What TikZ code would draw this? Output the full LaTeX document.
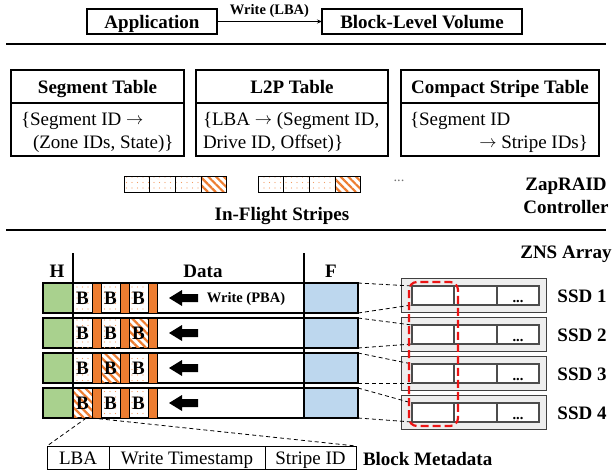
\documentclass[tikz,border=0pt]{standalone}
\usepackage{fontspec}
\setmainfont{Liberation Serif}
\usetikzlibrary{patterns.meta,calc,arrows.meta}
\definecolor{zorange}{RGB}{237,125,49}
\definecolor{zgreen}{RGB}{169,209,142}
\definecolor{zblue}{RGB}{189,215,238}
\definecolor{zgray}{RGB}{238,238,238}
\definecolor{zred}{RGB}{235,20,20}
\newcommand\zbig{\fontsize{19}{23}\selectfont}
\newcommand\zsmall{\fontsize{14.5}{17}\selectfont}
\newcommand\zarr{\raisebox{0.5pt}{$\rightarrow$}}
\begin{document}
\begin{tikzpicture}[x=1pt,y=-1pt,
  every node/.style={inner sep=0pt, outer sep=0pt},
  tb/.style={draw, line width=1.3pt, anchor=north west},
  bigb/.style={font=\zbig\bfseries},
  bigr/.style={font=\zbig},
  smallb/.style={font=\zsmall\bfseries},
  hdrtext/.style={text height=13pt, text depth=0pt},
  dotcell/.style={draw, line width=0.6pt, pattern={Dots[radius=0.6pt,distance=5.5pt]}, pattern color=zorange!75, anchor=north west},
  hatchcell/.style={draw, line width=0.6pt, pattern={Lines[angle=-45,distance=5.5pt,line width=2.2pt]}, pattern color=zorange, anchor=north west},
  cellsty/.style={dotcell},
  zone/.style={draw=black!70, line width=1.2pt, fill=white, anchor=north west, minimum height=19pt},
  conn/.style={dashed, dash pattern=on 4pt off 3pt, line width=0.8pt},
]
\useasboundingbox (0,0) rectangle (613,474);

% ---- top layer
\node[tb, minimum width=130pt, minimum height=25pt, bigb, hdrtext] (app) at (87,9) {Application};
\node[tb, minimum width=200pt, minimum height=25pt, bigb, hdrtext] (blv) at (322,9) {Block-Level Volume};
\draw[-{Stealth[length=5pt,width=4pt]}, line width=0.8pt] (app.east) -- (blv.west)
  node[midway, above=4pt, smallb] (wlba) {Write (LBA)};
\draw[line width=2pt] (6,44) -- (606,44);

% ---- tables
\node[tb, minimum width=173pt, minimum height=33pt, bigb, hdrtext] (segh) at (11,70) {Segment Table};
\node[tb, minimum width=173pt, minimum height=53pt] (segb) at (11,103) {};
\node[bigr, anchor=base west] (segt1) at (21,125) {\{Segment ID \zarr};
\node[bigr, anchor=base west] (segt2) at (33,148) {(Zone IDs, State)\}};

\node[tb, minimum width=192pt, minimum height=33pt, bigb, hdrtext] (l2ph) at (196,70) {L2P Table};
\node[tb, minimum width=192pt, minimum height=53pt] (l2pb) at (196,103) {};
\node[bigr, anchor=base west] (l2pt1) at (203,125) {\{LBA \zarr\ (Segment ID,};
\node[bigr, anchor=base west] (l2pt2) at (203,148) {Drive ID, Offset)\}};

\node[tb, minimum width=198pt, minimum height=33pt, bigb, hdrtext] (csth) at (401,70) {Compact Stripe Table};
\node[tb, minimum width=198pt, minimum height=53pt] (cstb) at (401,103) {};
\node[bigr, anchor=base west] (cstt1) at (410,125) {\{Segment ID};
\node[bigr, anchor=base east] (cstt2) at (588,148) {\zarr\ Stripe IDs\}};

% ---- in-flight stripes
\foreach \g/\x in {1/124, 2/258} {
  \foreach \k in {0,1,2} {
    \node[dotcell, minimum width=25.6pt, minimum height=16pt] (st\g\k) at ({\x+25.6*\k},176) {};
  }
  \node[hatchcell, minimum width=25.6pt, minimum height=16pt] (st\g3) at ({\x+76.8},176) {};
}
\node[font=\zsmall, text=black!55] (more) at (399,181) {...};
\node[bigb] (ifs) at (282,216) {In-Flight Stripes};
\node[bigb, align=center] (ctrl) at (566,195.5) {ZapRAID\\Controller};
\draw[line width=2pt] (6,230) -- (606,230);

% ---- ZNS array
\node[bigb] (zns) at (566,254) {ZNS Array};
\node[bigb] (lh) at (57,271) {H};
\node[bigb] (ld) at (203,271) {Data};
\node[bigb] (lf) at (331,271) {F};

\foreach \i/\hc in {1/0,2/3,3/2,4/1} {
  \pgfmathsetmacro\t{283+35*(\i-1)}
  \pgfmathsetmacro\cy{\t+15}
  \node[tb, fill=white, minimum width=315pt, minimum height=30pt] (row\i) at (43,\t) {};
  \node[tb, fill=zgreen, minimum width=30pt, minimum height=30pt] (h\i) at (43,\t) {};
  \node[tb, fill=zblue, minimum width=54pt, minimum height=30pt] (f\i) at (304,\t) {};
  \foreach \k in {1,2,3} {
    \pgfmathsetmacro\cx{73+28*(\k-1)}
    \ifnum\k=\hc \tikzset{cellsty/.style={hatchcell}}\else\tikzset{cellsty/.style={dotcell}}\fi
    \node[cellsty, minimum width=19pt, minimum height=30pt, bigb] (c\i\k) at (\cx,\t) {B};
    \node[anchor=north west, draw, line width=0.6pt, fill=zorange, minimum width=9pt, minimum height=30pt] (o\i\k) at ({\cx+19},\t) {};
  }
  \fill (169,\cy) -- (182,{\cy-8}) -- (182,{\cy-4}) -- (198,{\cy-4}) -- (198,{\cy+4}) -- (182,{\cy+4}) -- (182,{\cy+8}) -- cycle;
}
\node[smallb] (wpba) at (246,299) {Write (PBA)};
\draw[line width=2pt] (73,253) -- (73,418);
\draw[line width=2pt] (304,253) -- (304,418);

\foreach \i in {1,2,3,4} {
  \pgfmathsetmacro\st{278+39*(\i-1)}
  \node[anchor=north west, draw=black!75, line width=1pt, fill=zgray, minimum width=145pt, minimum height=34pt] (ssd\i) at (401,\st) {};
  \node[zone, minimum width=42pt] (za\i) at (412,{\st+8}) {};
  \node[zone, minimum width=43pt] (zb\i) at (454,{\st+8}) {};
  \node[zone, minimum width=42pt] (zc\i) at (497,{\st+8}) {};
  \node[smallb, anchor=base] (zd\i) at (518,{\st+24}) {...};
  \node[bigb] (sl\i) at (582,{\st+18}) {SSD \i};
  \draw[conn] (f\i.north east) -- (za\i.north west);
  \draw[conn] (f\i.south east) -- (za\i.south west);
}
\draw[zred, line width=2.2pt, dash pattern=on 8pt off 4pt, rounded corners=8pt] (409,282) rectangle (458,426);

% ---- block metadata
\node[anchor=north west, draw, line width=1pt, minimum width=62pt, minimum height=23pt, bigr, text height=13pt, text depth=0pt] (mlba) at (47,446) {LBA};
\node[anchor=north west, draw, line width=1pt, minimum width=156pt, minimum height=23pt, bigr, text height=13pt, text depth=0pt] (mwts) at (109,446) {Write Timestamp};
\node[anchor=north west, draw, line width=1pt, minimum width=91pt, minimum height=23pt, bigr, text height=13pt, text depth=0pt] (msid) at (265,446) {Stripe ID};
\node[bigb, anchor=base west] (bmeta) at (363,465) {Block Metadata};
\draw[conn] ($(c41.south west)!0.7!(c41.south east)$) -- (mlba.north west);
\draw[conn] (c41.south east) -- (msid.north east);
\end{tikzpicture}
\end{document}
